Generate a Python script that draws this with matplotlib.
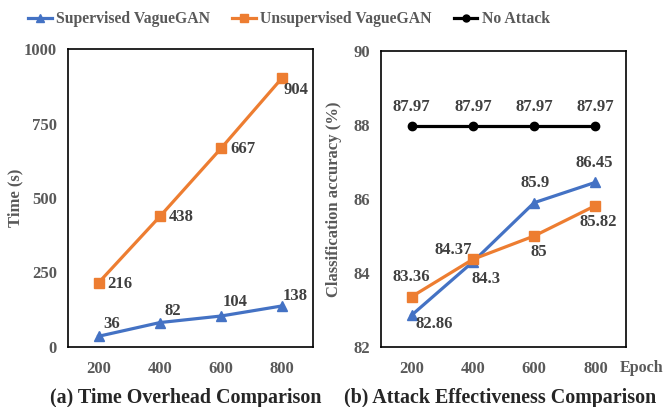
import matplotlib
matplotlib.use("Agg")
import matplotlib.pyplot as plt
from matplotlib.lines import Line2D

plt.rcParams['font.family'] = ['Liberation Serif', 'DejaVu Serif']
plt.rcParams['font.weight'] = 'bold'

epochs = ["200", "400", "600", "800"]
sup_time = [36, 82, 104, 138]
unsup_time = [216, 438, 667, 904]
sup_acc = [82.86, 84.3, 85.9, 86.45]
unsup_acc = [83.36, 84.37, 85, 85.82]
noattack_acc = [87.97, 87.97, 87.97, 87.97]

BLUE = '#4472C4'
ORANGE = '#ED7D31'
GRAY = '#595959'
DARK = '#404040'

fig = plt.figure(figsize=(6.67, 4.07), dpi=100)
W, H = 667, 407
def ax_rect(l, t, r, b):
    return [l / W, 1 - b / H, (r - l) / W, (b - t) / H]

ax1 = fig.add_axes(ax_rect(68, 49, 313, 347))
ax2 = fig.add_axes(ax_rect(381, 51, 626, 347))

x = list(range(len(epochs)))
lw = 2.3
ms = 7
FS = 12
PX = 0.72  # points per pixel

def style(ax):
    ax.set_xlim(-0.5, 3.5)
    ax.set_xticks(x)
    ax.set_xticklabels(epochs)
    ax.tick_params(length=0, labelsize=FS, colors=GRAY)
    ax.tick_params(axis='x', pad=10)
    ax.tick_params(axis='y', pad=8)
    for lab in ax.get_xticklabels() + ax.get_yticklabels():
        lab.set_fontweight('bold')
    for s in ax.spines.values():
        s.set_color('black')
        s.set_linewidth(1.2)

def lab(ax, txt, xy, dxpx, dypx, ha):
    ax.annotate(txt, xy, xytext=(dxpx * PX, -dypx * PX), textcoords='offset points',
                ha=ha, va='center', fontsize=FS, color=DARK, fontweight='bold')

# (a)
ax1.plot(x, unsup_time, color=ORANGE, lw=lw, marker='s', ms=ms, zorder=3)
ax1.plot(x, sup_time, color=BLUE, lw=lw, marker='^', ms=ms, zorder=3)
ax1.set_ylim(0, 1000)
ax1.set_yticks([0, 250, 500, 750, 1000])
style(ax1)
ax1.set_ylabel('Time (s)', fontsize=FS, color=GRAY, fontweight='bold')
ax1.yaxis.set_label_coords(-0.184, 0.5)
unsup_t_off = [(9, 1), (9, 1), (9, 1), (1, 12)]
for i, v in enumerate(unsup_time):
    dx, dy = unsup_t_off[i]
    lab(ax1, str(v), (i, v), dx, dy, 'left')
sup_t_off = [(5, -12), (5, -12), (1, -14), (0, -10)]
for i, v in enumerate(sup_time):
    dx, dy = sup_t_off[i]
    lab(ax1, str(v), (i, v), dx, dy, 'left')
fig.text(186 / W, 1 - 403 / H, '(a) Time Overhead Comparison',
         ha='center', va='baseline', fontsize=14.4, fontweight='bold', color='#262626')

# (b)
ax2.plot(x, noattack_acc, color='black', lw=lw, marker='o', ms=6, zorder=3)
ax2.plot(x, sup_acc, color=BLUE, lw=lw, marker='^', ms=ms, zorder=3)
ax2.plot(x, unsup_acc, color=ORANGE, lw=lw, marker='s', ms=ms, zorder=4)
ax2.set_ylim(82, 90)
ax2.set_yticks([82, 84, 86, 88, 90])
style(ax2)
ax2.set_ylabel('Classification accuracy (%)', fontsize=FS, color=GRAY, fontweight='bold')
ax2.yaxis.set_label_coords(-0.159, 0.5)
for i, v in enumerate(noattack_acc):
    lab(ax2, f"{v:g}", (i, v), 0, -19, 'center')
sup_a_off = [(4, 9, 'left'), (-1, 17, 'left'), (1, -20, 'center'), (-1, -19, 'center')]
for i, v in enumerate(sup_acc):
    dx, dy, ha = sup_a_off[i]
    lab(ax2, f"{v:g}", (i, v), dx, dy, ha)
unsup_a_off = [(0, -20, 'center'), (-1, -9, 'right'), (5, 16, 'center'), (3, 16, 'center')]
for i, v in enumerate(unsup_acc):
    dx, dy, ha = unsup_a_off[i]
    lab(ax2, f"{v:g}", (i, v), dx, dy, ha)
fig.text(642 / W, 1 - 368 / H, 'Epoch', ha='center', va='center',
         fontsize=11.5, color=GRAY, fontweight='bold')
fig.text(500 / W, 1 - 403 / H, '(b) Attack Effectiveness Comparison',
         ha='center', va='baseline', fontsize=14.4, fontweight='bold', color='#262626')

handles = [
    Line2D([], [], color=BLUE, lw=lw, marker='^', ms=6),
    Line2D([], [], color=ORANGE, lw=lw, marker='s', ms=6),
    Line2D([], [], color='black', lw=lw, marker='o', ms=5),
]
labels = ['Supervised VagueGAN', 'Unsupervised VagueGAN', 'No Attack']
leg = fig.legend(handles, labels, loc='center left', bbox_to_anchor=(28 / W, 1 - 19 / H), ncol=3,
                 frameon=False, fontsize=11.3, handlelength=1.5, handletextpad=0.3,
                 columnspacing=1.4, borderaxespad=0, borderpad=0)
for t in leg.get_texts():
    t.set_color(GRAY)
    t.set_fontweight('bold')

fig.savefig('out.png', dpi=100)
